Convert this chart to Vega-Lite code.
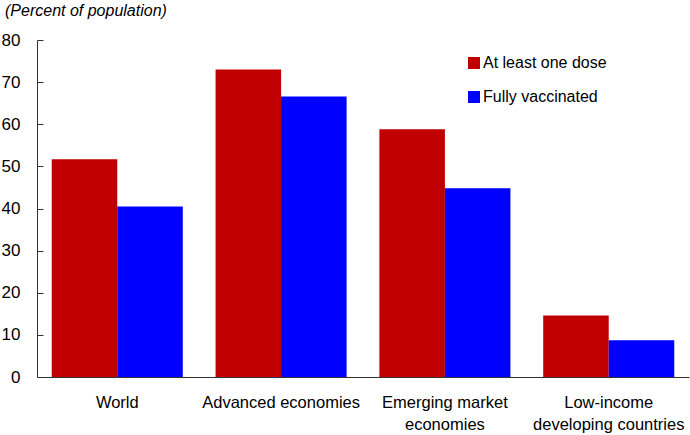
{
  "$schema": "https://vega.github.io/schema/vega-lite/v6.json",
  "width": 652,
  "height": 337,
  "autosize": "none",
  "padding": {"left": 37, "top": 40, "right": 1, "bottom": 58},
  "background": "white",
  "config": {
    "font": "Liberation Sans",
    "view": {"stroke": null}
  },
  "title": {
    "text": "(Percent of population)",
    "anchor": "start",
    "frame": "group",
    "orient": "top",
    "fontStyle": "italic",
    "fontWeight": "normal",
    "fontSize": 16,
    "font": "Liberation Sans",
    "color": "#000",
    "dx": -32,
    "offset": 12
  },
  "data": {
    "values": [
      {"group": "World", "measure": "At least one dose", "value": 51.7},
      {"group": "World", "measure": "Fully vaccinated", "value": 40.5},
      {"group": "Advanced economies", "measure": "At least one dose", "value": 73.0},
      {"group": "Advanced economies", "measure": "Fully vaccinated", "value": 66.6},
      {"group": "Emerging market economies", "measure": "At least one dose", "value": 58.8},
      {"group": "Emerging market economies", "measure": "Fully vaccinated", "value": 44.8},
      {"group": "Low-income developing countries", "measure": "At least one dose", "value": 14.6},
      {"group": "Low-income developing countries", "measure": "Fully vaccinated", "value": 8.7}
    ]
  },
  "mark": {"type": "bar"},
  "encoding": {
    "x": {
      "field": "group",
      "type": "nominal",
      "sort": null,
      "scale": {"paddingInner": 0.2, "paddingOuter": 0.09},
      "axis": {
        "title": null,
        "labelAngle": 0,
        "ticks": false,
        "labelPadding": 17,
        "labelFontSize": 16.5,
        "labelColor": "#000",
        "labelLineHeight": 22,
        "domainColor": "#333",
        "labelExpr": "datum.value == 'Emerging market economies' ? ['Emerging market', 'economies'] : datum.value == 'Low-income developing countries' ? ['Low-income', 'developing countries'] : datum.value"
      }
    },
    "xOffset": {"field": "measure", "type": "nominal", "sort": null, "scale": {"paddingInner": 0, "paddingOuter": 0}},
    "y": {
      "field": "value",
      "type": "quantitative",
      "scale": {"domain": [0, 80]},
      "axis": {
        "title": null,
        "values": [0, 10, 20, 30, 40, 50, 60, 70, 80],
        "grid": false,
        "tickSize": -6,
        "tickColor": "#333",
        "domainColor": "#333",
        "labelPadding": 23,
        "labelFontSize": 17,
        "labelColor": "#000"
      }
    },
    "color": {
      "field": "measure",
      "type": "nominal",
      "sort": null,
      "scale": {"domain": ["At least one dose", "Fully vaccinated"], "range": ["#C00000", "#0000FF"]},
      "legend": {
        "title": null,
        "orient": "none",
        "legendX": 429,
        "legendY": 15,
        "symbolType": "square",
        "symbolSize": 144,
        "symbolStrokeWidth": 0,
        "labelFontSize": 16,
        "labelColor": "#000",
        "labelOffset": 1,
        "rowPadding": 18
      }
    }
  }
}
